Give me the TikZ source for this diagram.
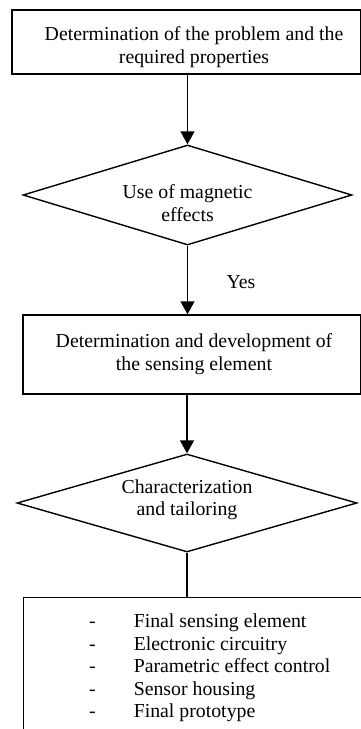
\documentclass[tikz,border=0pt]{standalone}
\usepackage{fontspec}
\setmainfont{Liberation Serif}
\usetikzlibrary{shapes.geometric,arrows.meta}
\begin{document}
\begin{tikzpicture}[x=1pt,y=-1pt,
  every node/.style={font=\fontsize{19.8}{22.5}\selectfont, inner sep=0pt},
  rectbox/.style={draw, line width=1.4pt, rectangle, inner sep=0pt},
  decision/.style={draw, line width=1.4pt, diamond, aspect=3.3, inner sep=0pt, align=center},
  arr/.style={line width=1.4pt, -{Triangle[length=13pt,width=14pt]}},
  plain/.style={line width=1.4pt}
]
\useasboundingbox (0,0) rectangle (361,729);
\clip (0,0) rectangle (361,729);
\fill[white] (0,0) rectangle (361,729);

% box 1
\node[rectbox, minimum width=348.5pt, minimum height=64pt] (b1) at (186.25,42) {};
\node[align=center] (b1t) at (194,47) {Determination of the problem and the\\required properties};

% diamond 1
\node[decision, minimum width=329pt, minimum height=100pt] (d1) at (187.5,195) {};
\node[align=center] (d1t) at (187.5,203) {Use of magnetic\\effects};

% box 2
\node[rectbox, minimum width=337.5pt, minimum height=79pt] (b2) at (191.75,354.5) {};
\node[align=center] (b2t) at (194,354) {Determination and development of\\the sensing element};

% diamond 2
\node[decision, minimum width=340pt, minimum height=98pt] (d2) at (187,503) {};
\node[align=center] (d2t) at (187,500) {Characterization\\and tailoring};

% box 3
\node[rectbox, minimum width=337.5pt, minimum height=180pt, anchor=north west] (b3) at (23,597) {};
\node[anchor=north west] (b3t) at (89,612) {%
  \begin{tabular}{@{}l@{\hspace{38pt}}l@{}}
  - & Final sensing element\\
  - & Electronic circuitry\\
  - & Parametric effect control\\
  - & Sensor housing\\
  - & Final prototype
  \end{tabular}};

% Yes label
\node (yes) at (241,282) {Yes};

% connectors
\draw[arr] (d1.north |- b1.south) -- (d1.north);
\draw[arr] (d1.south) -- (d1.south |- b2.north);
\draw[arr] (d2.north |- b2.south) -- (d2.north);
\draw[plain] (d2.south) -- (d2.south |- b3.north);
\end{tikzpicture}
\end{document}
